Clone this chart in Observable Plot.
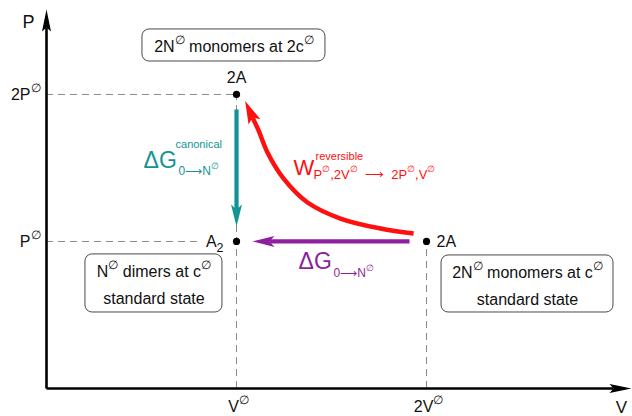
<!DOCTYPE html>
<html><head><meta charset="utf-8">
<script src="https://cdn.jsdelivr.net/npm/d3@7"></script>
<script src="https://cdn.jsdelivr.net/npm/@observablehq/plot@0.6"></script>
<style>
body{margin:0;background:#fff;}
#chart svg{display:block;}
</style></head><body><div id="chart"></div>
<script>
// ---------- data (V in units of V°, P in units of P°) ----------
const stateNames = ["2A", "A_{2}", "2A"];
const stateV = [1, 1, 2];
const stateP = [2, 1, 1];
const xTickValues = [1, 2];
const xTickLabels = ["V^{∅}", "2V^{∅}"];
const yTickValues = [1, 2];
const yTickLabels = ["P^{∅}", "2P^{∅}"];
const axisNames = ["V", "P"];
// reversible isothermal path
const isoV = [1.932, 1.758, 1.547, 1.374, 1.247, 1.163, 1.116, 1.084];
const isoP = [1.054, 1.088, 1.156, 1.265, 1.429, 1.605, 1.755, 1.844];
const labelCanonical = ["ΔG", "canonical", "0⟶N^{∅}"];
const labelReversible = ["W", "reversible", "P^{∅},2V^{∅}\u00a0\u00a0⟶\u00a0\u00a02P^{∅},V^{∅}"];
const labelStandard = ["ΔG", "0⟶N^{∅}"];
const boxLine1 = ["2N^{∅} monomers at 2c^{∅}", "N^{∅} dimers at c^{∅}", "2N^{∅} monomers at c^{∅}"];
const boxLine2 = ["", "standard state", "standard state"];

// ---------- layout ----------
const xMax = 3.084, yMax = 2.639;
const boxV1 = [0.505, 0.205, 2.079];
const boxV2 = [1.468, 0.926, 2.984];
const boxTop = [2.442, 0.912, 0.905];
const boxBottom = [2.224, 0.517, 0.517];
const teal = "#139494", purple = "#8e1f9e", red = "#ff1010";
const font = "'Liberation Sans', Arial, Helvetica, sans-serif";

function head(L, W, d) {
  // origin at the notch, pointing up (−y)
  return {draw(ctx) {
    ctx.moveTo(0, -(L - d));
    ctx.lineTo(W, d);
    ctx.lineTo(0, 0);
    ctx.lineTo(-W, d);
    ctx.closePath();
  }};
}
const arrowHead = head(22, 5.5, 5);
const axisHead = head(22, 4.5, 4);

const S = d3.range(stateNames.length);
const B = d3.range(boxLine1.length);
const topOf = (v) => d3.max(S.filter(j => stateV[j] === v), j => stateP[j]);
const vGuides = S.filter(i => stateP[i] === topOf(stateV[i]));
const ISO = d3.range(isoV.length);
const last = ISO[ISO.length - 1];

const svg = Plot.plot({
  width: 632, height: 416,
  marginLeft: 46, marginRight: 0, marginTop: 0, marginBottom: 28,
  x: {domain: [0, xMax], axis: null},
  y: {domain: [0, yMax], axis: null},
  style: {fontFamily: font, background: "white", overflow: "visible"},
  marks: [
    // dashed guides
    Plot.ruleX(vGuides, {x: i => stateV[i], y1: () => 0, y2: i => stateP[i], stroke: "#8a8a8a", strokeWidth: 1, strokeDasharray: "7,5"}),
    Plot.ruleY([0], {y: i => stateP[i], x1: () => 0, x2: i => stateV[i], stroke: "#8a8a8a", strokeWidth: 1, strokeDasharray: "7,5"}),
    Plot.ruleY([1], {y: i => stateP[i], x1: () => 0, x2: i => stateV[i], insetRight: 34, stroke: "#8a8a8a", strokeWidth: 1, strokeDasharray: "7,5"}),
    // boxes
    Plot.rect(B, {x1: i => boxV1[i], x2: i => boxV2[i], y1: i => boxBottom[i], y2: i => boxTop[i], rx: 7, fill: "white", stroke: "#4a4a4a", strokeWidth: 1}),
    Plot.text(B, {x: i => (boxV1[i] + boxV2[i]) / 2, y: i => boxTop[i], text: i => boxLine1[i], dy: 23, lineAnchor: "bottom", fontSize: 16, fill: "#111"}),
    Plot.text(B, {x: i => (boxV1[i] + boxV2[i]) / 2, y: i => boxTop[i], text: i => boxLine2[i], dy: 50, lineAnchor: "bottom", fontSize: 16, fill: "#111"}),
    // axes
    Plot.arrow([0], {x1: () => 0, y1: () => 0, x2: () => 0, y2: () => yMax, headLength: 0, insetEnd: 27, stroke: "#000", strokeWidth: 2.6, strokeLinecap: "butt"}),
    Plot.arrow([0], {x1: () => 0, y1: () => 0, x2: () => xMax, y2: () => 0, headLength: 0, insetEnd: 19, stroke: "#000", strokeWidth: 2.6, strokeLinecap: "butt"}),
    Plot.dot([0], {x: () => 0, y: () => yMax, dy: 27, symbol: axisHead, fill: "#000", stroke: "none"}),
    Plot.dot([0], {x: () => xMax, y: () => 0, dx: -19, rotate: 90, symbol: axisHead, fill: "#000", stroke: "none"}),
    Plot.text([1], {x: () => 0, y: () => yMax, text: i => axisNames[i], dx: -18, dy: 27, lineAnchor: "bottom", fontSize: 18, fill: "#111"}),
    Plot.text([0], {x: () => xMax, y: () => 0, text: i => axisNames[i], dx: -11, dy: 24, lineAnchor: "bottom", fontSize: 17, fill: "#111"}),
    // tick labels
    Plot.text(xTickValues, {x: d => d, y: () => 0, text: (d, i) => xTickLabels[i], dy: 23, dx: 2, lineAnchor: "bottom", fontSize: 16, fill: "#111"}),
    Plot.text(yTickValues, {x: () => 0, y: d => d, text: (d, i) => yTickLabels[i], dx: -6, dy: 6, textAnchor: "end", lineAnchor: "bottom", fontSize: 16, fill: "#111"}),
    // reversible isotherm (red)
    Plot.line(ISO, {x: i => isoV[i], y: i => isoP[i], curve: "catmull-rom", stroke: red, strokeWidth: 4.5, strokeLinecap: "butt"}),
    Plot.dot([last], {x: i => isoV[i], y: i => isoP[i], rotate: -24, symbol: head(23, 6.5, 5), fill: red, stroke: "none"}),
    // canonical (teal) 2A -> A2
    Plot.arrow([[0, 1]], {x1: ([a]) => stateV[a], y1: ([a]) => stateP[a], x2: ([, b]) => stateV[b], y2: ([, b]) => stateP[b], headLength: 0, insetStart: 15, insetEnd: 32, stroke: teal, strokeWidth: 4.2, strokeLinecap: "butt"}),
    Plot.dot([1], {x: i => stateV[i], y: i => stateP[i], dy: -32, rotate: 180, symbol: arrowHead, fill: teal, stroke: "none"}),
    // standard (purple) 2A -> A2
    Plot.arrow([[2, 1]], {x1: ([a]) => stateV[a], y1: ([a]) => stateP[a], x2: ([, b]) => stateV[b], y2: ([, b]) => stateP[b], headLength: 0, insetStart: 17, insetEnd: 33, stroke: purple, strokeWidth: 4.2, strokeLinecap: "butt"}),
    Plot.dot([1], {x: i => stateV[i], y: i => stateP[i], dx: 33, rotate: -90, symbol: arrowHead, fill: purple, stroke: "none"}),
    // states
    Plot.dot(S, {x: i => stateV[i], y: i => stateP[i], r: 3.6, fill: "#000", stroke: "none"}),
    Plot.text([0], {x: i => stateV[i], y: i => stateP[i], text: i => stateNames[i], dy: -11, lineAnchor: "bottom", fontSize: 16, fill: "#111"}),
    Plot.text([1], {x: i => stateV[i], y: i => stateP[i], text: i => stateNames[i], dx: -13, dy: 6, textAnchor: "end", lineAnchor: "bottom", fontSize: 16, fill: "#111"}),
    Plot.text([2], {x: i => stateV[i], y: i => stateP[i], text: i => stateNames[i], dx: 10, dy: 6, textAnchor: "start", lineAnchor: "bottom", fontSize: 16, fill: "#111"}),
    // teal label, anchored at midpoint of teal arrow
    Plot.text([0], {x: () => (stateV[0] + stateV[1]) / 2, y: () => (stateP[0] + stateP[1]) / 2, text: i => labelCanonical[0], dx: -93, dy: 0, textAnchor: "start", lineAnchor: "bottom", fontSize: 23, fill: teal}),
    Plot.text([0], {x: () => (stateV[0] + stateV[1]) / 2, y: () => (stateP[0] + stateP[1]) / 2, text: i => labelCanonical[1], dx: -61, dy: -20, textAnchor: "start", lineAnchor: "bottom", fontSize: 11, fill: teal}),
    Plot.text([0], {x: () => (stateV[0] + stateV[1]) / 2, y: () => (stateP[0] + stateP[1]) / 2, text: i => labelCanonical[2], dx: -58, dy: 7, textAnchor: "start", lineAnchor: "bottom", fontSize: 12, fill: teal}),
    // red label, anchored between the two 2A states
    Plot.text([0], {x: () => (stateV[0] + stateV[2]) / 2, y: () => (stateP[0] + stateP[2]) / 2, text: i => labelReversible[0], dx: -38, dy: 7, textAnchor: "start", lineAnchor: "bottom", fontSize: 22, fill: red}),
    Plot.text([0], {x: () => (stateV[0] + stateV[2]) / 2, y: () => (stateP[0] + stateP[2]) / 2, text: i => labelReversible[1], dx: -16, dy: -8, textAnchor: "start", lineAnchor: "bottom", fontSize: 11, fill: red}),
    Plot.text([0], {x: () => (stateV[0] + stateV[2]) / 2, y: () => (stateP[0] + stateP[2]) / 2, text: i => labelReversible[2], dx: -18, dy: 11, textAnchor: "start", lineAnchor: "bottom", fontSize: 13, fill: red}),
    // purple label, anchored at midpoint of purple arrow
    Plot.text([0], {x: () => (stateV[1] + stateV[2]) / 2, y: () => stateP[1], text: i => labelStandard[0], dx: -33, dy: 28, textAnchor: "start", lineAnchor: "bottom", fontSize: 23, fill: purple}),
    Plot.text([0], {x: () => (stateV[1] + stateV[2]) / 2, y: () => stateP[1], text: i => labelStandard[1], dx: 2, dy: 36, textAnchor: "start", lineAnchor: "bottom", fontSize: 12, fill: purple})
  ]
});
document.getElementById("chart").append(svg);

// turn ^{...} and _{...} into real superscript/subscript tspans
const NS = "http://www.w3.org/2000/svg";
function richText(el) {
  const src = el.textContent;
  if (!/[\^_]\{/.test(src)) return;
  const base = parseFloat(getComputedStyle(el).fontSize);
  while (el.firstChild) el.removeChild(el.firstChild);
  const stack = [{size: base, off: 0}];
  let cur = 0, buf = "";
  const flush = () => {
    if (!buf) return;
    const top = stack[stack.length - 1];
    const t = document.createElementNS(NS, "tspan");
    t.setAttribute("font-size", top.size.toFixed(2));
    const d = top.off - cur;
    if (d) t.setAttribute("dy", d.toFixed(2));
    cur = top.off;
    t.textContent = buf;
    el.appendChild(t);
    buf = "";
  };
  for (let i = 0; i < src.length; i++) {
    const c = src[i];
    if ((c === "^" || c === "_") && src[i + 1] === "{") {
      flush();
      const top = stack[stack.length - 1];
      stack.push(c === "^"
        ? {size: top.size * 0.72, off: top.off - top.size * 0.5}
        : {size: top.size * 0.78, off: top.off + top.size * 0.3});
      i++;
    } else if (c === "}" && stack.length > 1) {
      flush(); stack.pop();
    } else buf += c;
  }
  flush();
}
svg.querySelectorAll("text").forEach(richText);
</script>
</body></html>
